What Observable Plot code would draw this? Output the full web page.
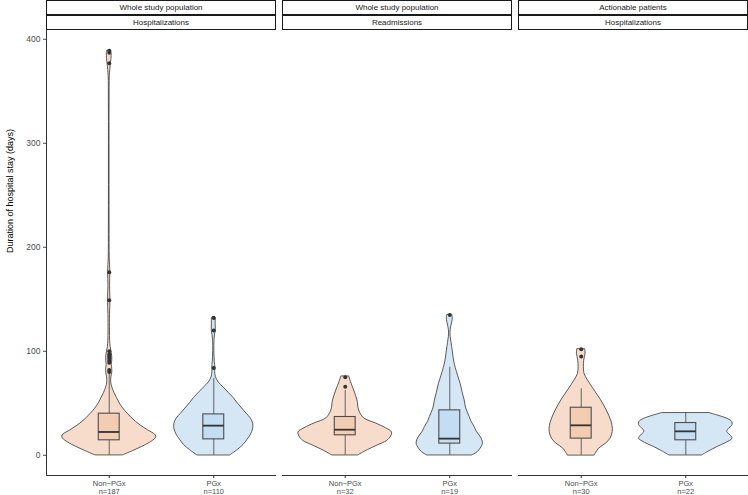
<!DOCTYPE html>
<html>
<head>
<meta charset="utf-8">
<script src="https://cdn.jsdelivr.net/npm/d3@7"></script>
<script src="https://cdn.jsdelivr.net/npm/@observablehq/plot@0.6"></script>
<style>
  body { margin: 0; background: white; font-family: "Liberation Sans", Arial, Helvetica, sans-serif; }
  #chart { position: relative; width: 748px; height: 495px; }
  #chart svg { position: absolute; left: 0; top: 30px; }
  .strip { position: absolute; box-sizing: border-box; border: 1px solid #1a1a1a; height: 15px;
           font-size: 8px; line-height: 13px; text-align: center; color: #1a1a1a; background: white; }
</style>
</head>
<body>
<div id="chart"></div>
<script>
// ---- data ----
const stripTop = ["Whole study population", "Whole study population", "Actionable patients"];
const stripBottom = ["Hospitalizations", "Readmissions", "Hospitalizations"];
const panelIds = ["Whole study population / Hospitalizations", "Whole study population / Readmissions", "Actionable patients / Hospitalizations"];
const groups = ["Non\u2212PGx", "PGx"];
const counts = [[187, 110], [32, 19], [30, 22]];
const yTicks = [0, 100, 200, 300, 400];
const yLabel = "Duration of hospital stay (days)";

// violin outlines: [days, relative density]
const violinP1Non = [[0,14],[4,24],[8,33],[12,41],[16,46.5],[18,47.3],[20,46],[24,39],[28,32.5],[32,27],[36,22.5],[40,18.5],[45,14],[50,10.5],[55,7.8],[60,5.2],[65,3.2],[70,2],[75,2.2],[79,3],[83,3],[87,2.6],[91,3],[95,3],[99,2.4],[104,1.4],[110,0.9],[120,0.7],[135,0.8],[150,1.2],[163,0.8],[176,1.1],[190,0.5],[220,0.35],[260,0.3],[300,0.3],[340,0.35],[365,0.6],[375,1.5],[381,2.2],[386,2.4],[389,2]];
const violinP1PGx = [[0,16.7],[5,24],[10,30],[15,34],[20,37.5],[25,39.5],[30,39.7],[35,37.5],[40,33],[45,28.5],[50,24],[55,20],[60,15],[65,10],[70,5],[75,2.2],[80,1.4],[84,1.6],[90,1],[100,0.6],[110,0.7],[116,1.3],[120,2],[126,1.9],[132,1.8],[133,1.2]];
const violinP2Non = [[0,13.3],[5,22.8],[9.6,33],[13.7,42],[18,46],[22,47],[26,41],[30.7,30.7],[35.5,19],[43,14],[52.7,12.3],[62.3,9],[70.4,5.7],[75.8,4]];
const violinP2PGx = [[0,23],[3,28],[6.4,31],[11,33.3],[15,32.5],[19,30],[23,27],[27.2,25],[32,22],[36.8,20],[45,16.5],[52.7,15],[60,13],[68.5,11],[76,8.5],[84,6],[90,4.5],[100,3],[108,1.8],[114,0.9],[118,0.7],[123,1.3],[128,2.5],[132,3],[135,2.5]];
const violinP3Non = [[0,13.7],[6.4,18],[11.2,25],[16,29.5],[22.4,31.7],[28,31.5],[33.6,30],[43,25.7],[52.8,20],[62.4,13.3],[72,6.7],[78.3,3.3],[84.7,2.7],[91,3],[97.5,4.3],[102,4]];
const violinP3PGx = [[0,16.7],[4,24],[8,32],[12,41],[16,47],[19,45],[22.4,41.7],[25,43],[29,47],[32,46.7],[35,42],[38,33],[40.6,23.8]];
const violins = [[violinP1Non, violinP1PGx], [violinP2Non, violinP2PGx], [violinP3Non, violinP3PGx]];

// box statistics: [lower whisker, Q1, median, Q3, upper whisker]
const boxStats = [
  [[0, 14.4, 22.4, 40, 78], [0, 15.3, 28.5, 39.3, 74]],
  [[0, 19.2, 24.6, 36.8, 62.3], [0, 11.2, 16, 43.2, 84.7]],
  [[0, 16, 28.8, 45.7, 64], [0, 14.4, 23, 31, 40.6]]
];
const outliers = [
  [[80, 82, 89, 91, 93, 95, 97, 100, 149, 176, 377, 387, 389], [84, 120, 132]],
  [[66, 75], [135]],
  [[95, 102], []]
];

// ---- styles ----
const violinFill = ["#f7dccb", "#d5e6f5"];
const boxFill = ["#f3cdb2", "#c3ddf2"];
const yDomain = [-19.45, 408.45];
const xDomain = [0.4, 2.6];
const maxHalf = 0.45, boxHalf = 0.1;

// ---- tables ----
const maxDensity = d3.max(violins.flat(2), d => d[1]);
const violinRows = [], boxRows = [], outRows = [], tickRows = [];
panelIds.forEach((p, i) => groups.forEach((g, j) => {
  const pos = j + 1;
  violins[i][j].forEach(([v, d]) => violinRows.push({panel: p, group: g, pos, v, hw: d / maxDensity * maxHalf, fill: violinFill[j]}));
  const [lo, q1, med, q3, hi] = boxStats[i][j];
  boxRows.push({panel: p, group: g, pos, lo, q1, med, q3, hi, fill: boxFill[j]});
  outliers[i][j].forEach(v => outRows.push({panel: p, group: g, pos, v}));
  tickRows.push({panel: p, pos, label: `${g}\nn=${counts[i][j]}`});
}));

const plot = Plot.plot({
  width: 748, height: 465,
  marginTop: 0, marginBottom: 20, marginLeft: 46, marginRight: 0,
  style: {fontFamily: '"Liberation Sans", Arial, Helvetica, sans-serif', background: "white", overflow: "visible"},
  fx: {domain: panelIds, paddingInner: 6 / 236, paddingOuter: 0, axis: null, label: null},
  x: {domain: xDomain, axis: null},
  y: {domain: yDomain, axis: null},
  marks: [
    Plot.areaX(violinRows, {fx: "panel", z: "group", y: "v", x1: d => d.pos - d.hw, x2: d => d.pos + d.hw,
      fill: "fill", stroke: "#333333", strokeWidth: 0.8, curve: "catmull-rom"}),
    Plot.ruleX(boxRows, {fx: "panel", x: "pos", y1: "lo", y2: "q1", stroke: "#555555", strokeWidth: 0.9}),
    Plot.ruleX(boxRows, {fx: "panel", x: "pos", y1: "q3", y2: "hi", stroke: "#555555", strokeWidth: 0.9}),
    Plot.rect(boxRows, {fx: "panel", x1: d => d.pos - boxHalf, x2: d => d.pos + boxHalf, y1: "q1", y2: "q3",
      fill: "fill", stroke: "#4d4d4d", strokeWidth: 1.1}),
    Plot.ruleY(boxRows, {fx: "panel", y: "med", x1: d => d.pos - boxHalf, x2: d => d.pos + boxHalf, stroke: "#333333", strokeWidth: 1.8}),
    Plot.dot(outRows, {fx: "panel", x: "pos", y: "v", r: 2, fill: "#333333", stroke: "none"}),
    Plot.ruleY([yDomain[0]], {stroke: "#333333", strokeWidth: 1}),
    Plot.ruleX([{panel: panelIds[0], x: xDomain[0]}], {fx: "panel", x: "x", stroke: "#333333", strokeWidth: 1}),
    Plot.axisY({ticks: yTicks, tickSize: 3, tickPadding: 3, label: null, fontSize: 8.5, color: "#4d4d4d"}),
    Plot.axisX({ticks: [1, 2], tickSize: 3, tickFormat: () => "", label: null, color: "#333333"}),
    Plot.text(tickRows, {fx: "panel", x: "pos", text: "label", frameAnchor: "bottom", lineAnchor: "top", dy: 4,
      fontSize: 7.5, lineHeight: 1.15, fill: "#4d4d4d"}),
    Plot.text([{panel: panelIds[0], t: yLabel}], {fx: "panel", text: "t", frameAnchor: "left", dx: -36, rotate: -90,
      fontSize: 9, fill: "black"})
  ]
});

const chart = document.getElementById("chart");
chart.appendChild(plot);
const fx = plot.scale("fx");
panelIds.forEach((p, i) => {
  const left = fx.apply(p), w = fx.bandwidth;
  [stripTop[i], stripBottom[i]].forEach((t, k) => {
    const div = document.createElement("div");
    div.className = "strip";
    div.style.left = left + "px";
    div.style.width = w + "px";
    div.style.top = (k * 15) + "px";
    div.textContent = t;
    chart.appendChild(div);
  });
});
</script>
</body>
</html>
